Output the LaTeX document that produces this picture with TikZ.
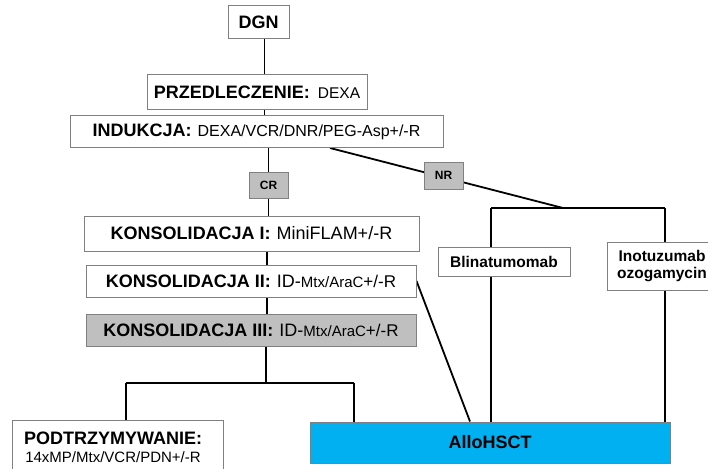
\documentclass[tikz,border=0pt]{standalone}
\usepackage{fontspec}
\setmainfont{Liberation Sans}
\pgfdeclarelayer{bg}
\pgfsetlayers{bg,main}
\definecolor{boxline}{RGB}{128,128,128}
\definecolor{greyfill}{RGB}{191,191,191}
\definecolor{allo}{RGB}{0,176,240}
\newcommand\bt[2][18]{{\fontsize{#1}{#1}\selectfont\bfseries #2}}
\newcommand\rt[2]{{\fontsize{#1}{#1}\selectfont #2}}
\tikzset{
  box/.style={draw=boxline, line width=1pt, fill=white, inner sep=0pt},
  greybox/.style={box, fill=greyfill},
  conn/.style={line width=1.8pt, black},
}
\begin{document}
\begin{tikzpicture}[x=1pt,y=-1pt]
\useasboundingbox (0,0) rectangle (708,468);
% boxes
\node[box, minimum width=61pt, minimum height=33pt] (dgn) at (258.5,22.5) {\bt{DGN}};
\node[box, minimum width=220pt, minimum height=34pt] (prz) at (257,92) {\bt{PRZEDLECZENIE:}\hspace{8pt}\rt{15.5}{DEXA}};
\node[box, minimum width=373pt, minimum height=32pt] (ind) at (256.5,131.5) {\bt{INDUKCJA:}\hspace{6pt}\rt{16}{DEXA/VCR/DNR/PEG-Asp+/-R}};
\node[greybox, minimum width=39pt, minimum height=26pt] (cr) at (268.5,185) {\bt[12]{CR}};
\node[greybox, minimum width=39pt, minimum height=27pt] (nr) at (443.5,175.5) {\bt[12]{NR}};
\node[box, minimum width=335pt, minimum height=35pt] (k1) at (251.5,233.5) {\bt{KONSOLIDACJA I:}\hspace{6pt}\rt{18}{MiniFLAM+/-R}};
\node[box, minimum width=330pt, minimum height=32pt] (k2) at (251,281) {\bt{KONSOLIDACJA II:}\hspace{6pt}\rt{18}{ID-}\rt{15}{Mtx/AraC}\rt{17}{+/-R}};
\node[greybox, minimum width=330pt, minimum height=32pt] (k3) at (251,330) {\bt{KONSOLIDACJA III:}\hspace{6pt}\rt{18}{ID-}\rt{15}{Mtx/AraC}\rt{17}{+/-R}};
\node[box, minimum width=132pt, minimum height=29pt] (blin) at (504,261.5) {\bt[15.5]{Blinatumomab}};
\node[box, minimum width=116pt, minimum height=48pt] (ino) at (665,266) {};
\node[align=center, inner sep=0pt, font=\fontsize{15.5}{17}\selectfont\bfseries] (inot) at (662,266) {Inotuzumab\\ozogamycin};
\node[box, fill=allo, minimum width=360pt, minimum height=41pt] (allo) at (490,442.5) {\bt{AlloHSCT}};
\node[box, minimum width=211pt, minimum height=62pt] (pod) at (117.5,451) {};
\node[anchor=base, inner sep=0pt] (pod1) at (113,444) {\bt{PODTRZYMYWANIE:}};
\node[anchor=base, inner sep=0pt] (pod2) at (113,462) {\rt{15}{14xMP/Mtx/VCR/PDN+/-R}};
% junction coordinates
\coordinate (xa) at (264.5,0);
\coordinate (xb) at (267,0);
\coordinate (xd) at (330,0);
\coordinate (xe) at (470,0);
\coordinate (jn) at (563,208);
\coordinate (jr1) at (491,208);
\coordinate (jr2) at (665,208);
\coordinate (jb) at (266,383);
\coordinate (jbl) at (126,383);
\coordinate (jbr) at (354,383);
\begin{pgfonlayer}{bg}
\draw[conn] (dgn.south -| xa) -- (prz.north -| xa);
\draw[conn] (prz.south -| xa) -- (ind.north -| xa);
\draw[conn] (ind.south -| cr) -- (cr.north);
\draw[conn] (cr.south) -- (cr.south |- k1.north);
\draw[conn] (k1.south -| xb) -- (k2.north -| xb);
\draw[conn] (k2.south -| xb) -- (k3.north -| xb);
\draw[conn] (k3.south -| jb) -- (jb);
\draw[conn] (jbl) -- (jbr);
\draw[conn] (jbl) -- (jbl |- pod.north);
\draw[conn] (jbr) -- (jbr |- allo.north);
\draw[conn] (ind.south -| xd) -- (jn);
\draw[conn] (jr1) -- (jr2);
\draw[conn] (jr1) -- (jr1 |- blin.north);
\draw[conn] (blin.south -| jr1) -- (jr1 |- allo.north);
\draw[conn] (jr2) -- (ino.north);
\draw[conn] (ino.south) -- (ino.south |- allo.north);
\draw[conn] (k2.east) -- (allo.north -| xe);
\end{pgfonlayer}
\end{tikzpicture}
\end{document}
